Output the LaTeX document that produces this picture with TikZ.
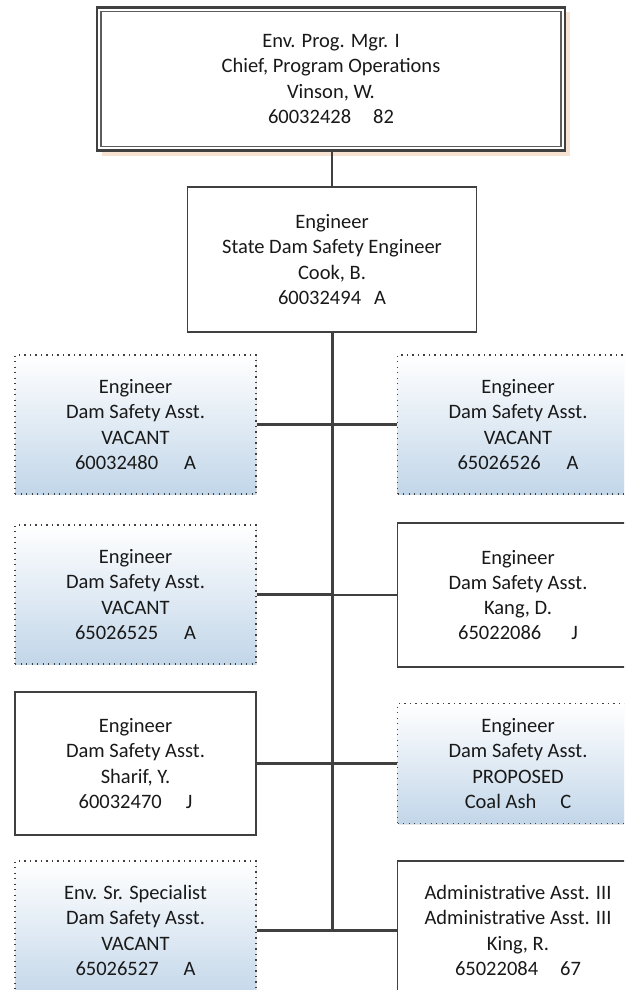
\documentclass[tikz,border=0pt]{standalone}
\usepackage{fontspec}
\setmainfont{Carlito}
\usetikzlibrary{shadows}
\definecolor{ln}{HTML}{404040}
\definecolor{gb}{HTML}{C2D6E9}
\definecolor{peach}{HTML}{F8E2D2}
\tikzset{
  every node/.style={font=\fontsize{20.5}{25.3}\selectfont, align=center, text=black!90, inner sep=0pt},
  topbox/.style={draw=ln, line width=2.2pt, fill=white, minimum width=468pt, minimum height=143pt,
    drop shadow={shadow xshift=5pt, shadow yshift=-5pt, fill=peach, opacity=1}},
  solidbox/.style={draw=ln, line width=1.8pt, fill=white, minimum width=241pt, minimum height=144pt},
  dotbox/.style={draw=ln, line width=1.3pt, dash pattern=on 1.3pt off 4.2pt, top color=white, bottom color=gb,
    minimum width=241pt, minimum height=139pt,
    drop shadow={shadow xshift=1.2pt, shadow yshift=-1.2pt, fill=black!15, opacity=0.6}},
  conn/.style={draw=ln, line width=2.3pt},
  trunkline/.style={draw=ln, line width=3pt},
}
\begin{document}
\begin{tikzpicture}[x=1pt,y=-1pt]
\useasboundingbox (0,0) rectangle (624,990);
\clip (0,0) rectangle (624,990);
% top box
\node[topbox] (top) at (331,79) {Env. Prog. Mgr. I\\Chief, Program Operations\\Vinson, W.\\60032428\hspace{22pt}82};
\draw[draw=ln!85, line width=1.5pt] ([shift={(5,5)}]top.north west) rectangle ([shift={(-5,-5)}]top.south east);
% second
\node[solidbox, minimum width=289pt, minimum height=145pt] (eng) at (332,259.5) {Engineer\\State Dam Safety Engineer\\Cook, B.\\60032494\hspace{13pt}A};
% rows
\node[dotbox] (r1l) at (135.5,424.5) {Engineer\\Dam Safety Asst.\\VACANT\\60032480\hspace{26pt}A};
\node[dotbox] (r1r) at (518,424.5) {Engineer\\Dam Safety Asst.\\VACANT\\65026526\hspace{26pt}A};
\node[dotbox] (r2l) at (135.5,594.5) {Engineer\\Dam Safety Asst.\\VACANT\\65026525\hspace{26pt}A};
\node[solidbox] (r2r) at (518,595) {Engineer\\Dam Safety Asst.\\Kang, D.\\65022086\hspace{30pt}J};
\node[solidbox, minimum height=143pt] (r3l) at (135.5,763.5) {Engineer\\Dam Safety Asst.\\Sharif, Y.\\60032470\hspace{24pt}J};
\node[dotbox, minimum height=120pt] (r3r) at (518,763.5) {Engineer\\Dam Safety Asst.\\PROPOSED\\Coal Ash\hspace{24pt}C};
\node[dotbox] (r4l) at (135.5,930.5) {Env. Sr. Specialist\\Dam Safety Asst.\\VACANT\\65026527\hspace{25pt}A};
\node[solidbox, minimum height=139pt] (r4r) at (518,930.5) {Administrative Asst. III\\Administrative Asst. III\\King, R.\\65022084\hspace{22pt}67};
% connectors
\coordinate (tend) at (332,930.5);
\draw[conn] (top.south -| eng.north) -- (eng.north);
\draw[trunkline] (eng.south) -- (tend);
\foreach \n in {r1l,r2l,r3l,r4l}{\draw[conn] (\n.east) -- (\n.east -| eng.south);}
\foreach \n in {r1r,r2r,r3r,r4r}{\draw[conn] (\n.west) -- (\n.west -| eng.south);}
\end{tikzpicture}
\end{document}
